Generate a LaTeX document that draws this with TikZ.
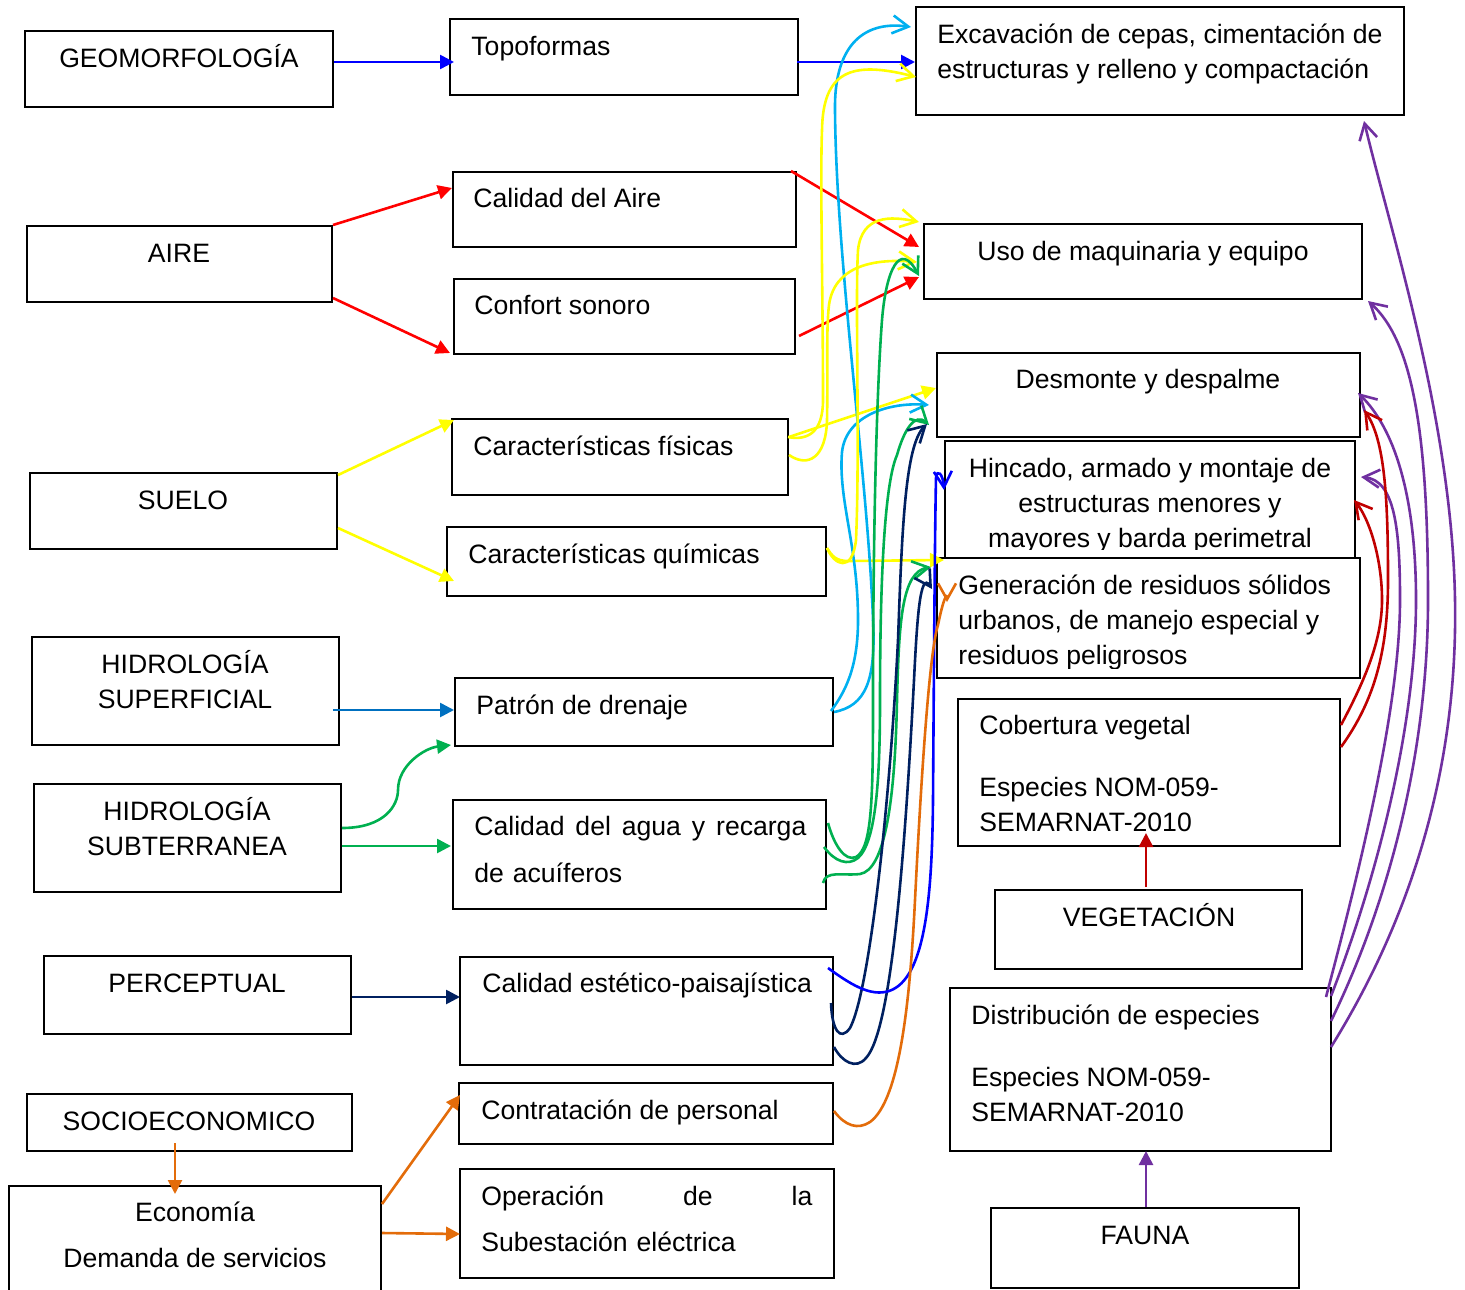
\documentclass[tikz,border=0pt]{standalone}
\usepackage{fontspec}
\setmainfont{Liberation Sans}
\usepackage{tikz}
\usetikzlibrary{arrows.meta, fit}
\definecolor{dgAzul}{HTML}{0000FF}
\definecolor{dgRojo}{HTML}{FF0000}
\definecolor{dgAmarillo}{HTML}{FFFF00}
\definecolor{dgAzulSup}{HTML}{0070C0}
\definecolor{dgCian}{HTML}{00B0F0}
\definecolor{dgVerde}{HTML}{00B050}
\definecolor{dgMarino}{HTML}{002060}
\definecolor{dgNaranja}{HTML}{E36C0A}
\definecolor{dgGuinda}{HTML}{C00000}
\definecolor{dgMorado}{HTML}{7030A0}

\begin{document}
\begin{tikzpicture}[
  x=0.5pt, y=-0.5pt,
  %% --- Node styles ---
  caja/.style={rectangle, draw=black, line width=1pt, fill=white, inner sep=0pt},
  rotulo/.style={inner sep=0pt, font=\fontsize{13.3pt}{17.5pt}\selectfont},
  rotuloC/.style={rotulo, align=center, anchor=north},
  rotuloL/.style={rotulo, align=left, anchor=north west},
  %% --- Arrow styles ---
  flecha/.style={-{Triangle[length=7pt,width=7pt]}, line width=1.3pt},
  curva/.style={-{Straight Barb[length=8pt,width=9pt]}, line width=1.3pt}
]
\useasboundingbox (0,0) rectangle (1465,1289);

%% =========================================================
%% BOXES — left column (factores)
%% =========================================================
\node[caja, fit={(25,31) (333,107)}]    (geo)    {};
\node[caja, fit={(27,226) (332,302)}]   (aire)   {};
\node[caja, fit={(30,473) (337,549)}]   (suelo)  {};
\node[caja, fit={(32,637) (339,745)}]   (hsup)   {};
\node[caja, fit={(34,784) (341,892)}]   (hsub)   {};
\node[caja, fit={(44,956) (351,1034)}]  (perc)   {};
\node[caja, fit={(27,1094) (352,1151)}] (socio)  {};
\node[caja, fit={(9,1186) (381,1300)}]  (eco)    {};

%% =========================================================
%% BOXES — middle column (componentes)
%% =========================================================
\node[caja, fit={(450,19) (798,95)}]    (topo)    {};
\node[caja, fit={(453,172) (796,247)}]  (caire)   {};
\node[caja, fit={(454,279) (795,354)}]  (confort) {};
\node[caja, fit={(452,419) (788,495)}]  (cfis)    {};
\node[caja, fit={(447,527) (826,596)}]  (cquim)   {};
\node[caja, fit={(455,678) (833,746)}]  (dren)    {};
\node[caja, fit={(453,800) (826,909)}]  (cagua)   {};
\node[caja, fit={(460,957) (833,1065)}] (cest)    {};
\node[caja, fit={(459,1083) (833,1144)}] (contr)  {};
\node[caja, fit={(460,1169) (834,1278)}] (oper)   {};

%% =========================================================
%% BOXES — right column (actividades)
%% =========================================================
\node[caja, fit={(916,7) (1404,115)}]    (exc)   {};
\node[caja, fit={(924,224) (1362,299)}]  (uso)   {};
\node[caja, fit={(937,353) (1360,437)}]  (desm)  {};
\node[caja, fit={(945,441) (1355,558)}]  (hinc)  {};
\node[caja, fit={(937,558) (1360,678)}]  (gen)   {};
\node[caja, fit={(958,699) (1340,846)}]  (cob)   {};
\node[caja, fit={(995,890) (1302,969)}]  (veg)   {};
\node[caja, fit={(950,988) (1331,1151)}] (distr) {};
\node[caja, fit={(991,1208) (1299,1288)}] (fauna) {};

%% =========================================================
%% TEXTS
%% =========================================================
\node[rotuloC] (geoTxt)   at (179,43)   {\strut GEOMORFOLOGÍA};
\node[rotuloC] (aireTxt)  at (179,238)  {\strut AIRE};
\node[rotuloC] (sueloTxt) at (183,485)  {\strut SUELO};
\node[rotuloC] (hsupTxt)  at (185,649)  {\strut HIDROLOGÍA\\SUPERFICIAL};
\node[rotuloC] (hsubTxt)  at (187,796)  {\strut HIDROLOGÍA\\SUBTERRANEA};
\node[rotuloC] (percTxt)  at (197,968)  {\strut PERCEPTUAL};
\node[rotuloC] (socioTxt) at (189,1106) {\strut SOCIOECONOMICO};
\node[rotuloC] (ecoTxt)   at (195,1197) {\strut Economía\\[5.5pt]Demanda de servicios};

\node[rotuloL] (topoTxt)    at (471,31)  {\strut Topoformas};
\node[rotuloL] (caireTxt)   at (473,183) {\strut Calidad del Aire};
\node[rotuloL] (confortTxt) at (474,290) {\strut Confort sonoro};
\node[rotuloL] (cfisTxt)    at (473,431) {\strut Características físicas};
\node[rotuloL] (cquimTxt)   at (468,539) {\strut Características químicas};
\node[rotuloL] (drenTxt)    at (476,690) {\strut Patrón de drenaje};
\node[rotuloL, text width=166pt] (caguaTxt) at (474,811)
      {\strut Calidad \hfill del \hfill agua \hfill y \hfill recarga\\[6pt]de acuíferos};
\node[rotuloL] (cestTxt)    at (482,968)  {\strut Calidad estético-paisajística};
\node[rotuloL] (contrTxt)   at (481,1095) {\strut Contratación de personal};
\node[rotuloL, text width=165.5pt] (operTxt) at (481,1181)
      {\strut Operación \hfill de \hfill la\\[5.5pt]Subestación eléctrica};

\node[rotuloL] (excTxt) at (937,19)
      {\strut Excavación de cepas, cimentación de\\estructuras y relleno y compactación};
\node[rotuloC] (usoTxt)  at (1143,236) {\strut Uso de maquinaria y equipo};
\node[rotuloC] (desmTxt) at (1148,364) {\strut Desmonte y despalme};
\begin{scope}
  \clip (hinc.north west) rectangle ([shift={(0,-10)}]hinc.south east);
  \node[rotuloC] (hincTxt) at (1150,453)
        {\strut Hincado, armado y montaje de\\estructuras menores y\\mayores y barda perimetral};
\end{scope}
\begin{scope}
  \clip (gen.north west) rectangle ([shift={(0,-11)}]gen.south east);
  \node[rotuloL] (genTxt) at (958,570)
        {\strut Generación de residuos sólidos\\urbanos, de manejo especial y\\residuos peligrosos};
\end{scope}
\node[rotuloL] (cobTxt)   at (979,710)  {\strut Cobertura vegetal\\[13.5pt]Especies NOM-059-\\SEMARNAT-2010};
\node[rotuloC] (vegTxt)   at (1149,902) {\strut VEGETACIÓN};
\node[rotuloL] (distrTxt) at (971,1000) {\strut Distribución de especies\\[13.5pt]Especies NOM-059-\\SEMARNAT-2010};
\node[rotuloC] (faunaTxt) at (1145,1220) {\strut FAUNA};

%% =========================================================
%% STRAIGHT ARROWS (factor -> componente)
%% =========================================================
\draw[flecha, dgAzul] ([shift={(0,-7)}]geo.east) -- ([shift={(5,5)}]topo.west);
\draw[flecha, dgAzul] ([shift={(-2,5)}]topo.east) -- ([shift={(0,1)}]exc.west);
\draw[flecha, dgRojo] (aire.north east) -- ([shift={(0,-21.5)}]caire.west);
\draw[flecha, dgRojo] ([shift={(0,-5)}]aire.south east) -- ([shift={(-3,-2)}]confort.south west);
\draw[flecha, dgRojo] ([shift={(-6,0)}]caire.north east) -- ([shift={(-4,-14.5)}]uso.west);
\draw[flecha, dgRojo] ([shift={(3,19.5)}]confort.east) -- ([shift={(-4,15.5)}]uso.west);
\draw[flecha, dgAmarillo] ([shift={(0,3)}]suelo.north east) -- ([shift={(3,2)}]cfis.north west);
\draw[flecha, dgAmarillo] ([shift={(0,17)}]suelo.east) -- ([shift={(8,-16)}]cquim.south west);
\draw[flecha, dgAmarillo] ([shift={(0,-20)}]cfis.east) -- ([shift={(0,-7)}]desm.west);
\draw[flecha, dgAmarillo] ([shift={(0,-13.5)}]cquim.east)
    .. controls (832,556) and (836,561) .. (848,561) -- ([shift={(8,3)}]gen.north west);
\draw[flecha, dgAzulSup] ([shift={(-7,19)}]hsup.east) -- ([shift={(0,-2)}]dren.west);
\draw[flecha, dgVerde] ([shift={(0,-10)}]hsub.east)
    .. controls (385,828) and (398,805) .. (398,790)
    .. controls (398,765) and (425,748) .. ([shift={(-3,-2)}]dren.south west);
\draw[flecha, dgVerde] ([shift={(0,8)}]hsub.east) -- ([shift={(-1,-8.5)}]cagua.west);
\draw[flecha, dgMarino] ([shift={(0,2)}]perc.east) -- ([shift={(1,-14)}]cest.west);
\draw[flecha, dgNaranja] ([shift={(-14.5,-9)}]socio.south) -- ([shift={(-20,9)}]eco.north);
\draw[flecha, dgNaranja] ([shift={(0,19)}]eco.north east) -- ([shift={(2,-18.5)}]contr.west);
\draw[flecha, dgNaranja] ([shift={(0,48)}]eco.north east) -- ([shift={(1,10.5)}]oper.west);
\draw[flecha, dgGuinda] ([shift={(-2.5,-2)}]veg.north) -- ([shift={(-3,-14)}]cob.south);
\draw[flecha, dgMorado] ([shift={(1,0)}]fauna.north) -- ([shift={(5.5,-1)}]distr.south);

%% =========================================================
%% CURVED ARROWS (componente -> actividad)
%% =========================================================
%% drenaje
\draw[curva, dgCian] (dren.east)
    .. controls (866,706) and (876,680) .. (873,620)
    .. controls (868,480) and (836,260) .. (835,110)
    .. controls (834,50) and (860,20) .. ([shift={(-4,21)}]exc.north west);
\draw[curva, dgCian] ([shift={(-3,-1)}]dren.east)
    .. controls (845,692) and (858,668) .. (858,620)
    .. controls (858,545) and (838,500) .. (842,452)
    .. controls (846,415) and (890,402) .. ([shift={(-7,10)}]desm.west);

%% suelo
\draw[curva, dgAmarillo] ([shift={(-1,-20)}]cfis.east)
    .. controls (808,441) and (823,432) .. (823,400)
    .. controls (823,300) and (820,180) .. (822,130)
    .. controls (823,72) and (850,60) .. ([shift={(1,16)}]exc.west);
\draw[curva, dgAmarillo] ([shift={(0,-2)}]cfis.east)
    .. controls (808,468) and (826,458) .. (827,420)
    .. controls (828,370) and (826,330) .. (829,305)
    .. controls (834,268) and (870,258) .. ([shift={(-6,0.5)}]uso.west);
\draw[curva, dgAmarillo] ([shift={(0,-13.5)}]cquim.east)
    .. controls (834,565) and (852,574) .. (856,540)
    .. controls (860,450) and (855,300) .. (858,250)
    .. controls (862,215) and (890,216) .. ([shift={(-4,-1)}]uso.north west);

%% agua
\draw[curva, dgVerde] ([shift={(1,-31.5)}]cagua.east)
    .. controls (834,845) and (845,862) .. (856,857)
    .. controls (872,848) and (873,800) .. (873,700)
    .. controls (873,550) and (876,400) .. (882,320)
    .. controls (886,270) and (900,240) .. ([shift={(-4,14.5)}]uso.west);
\draw[curva, dgVerde] ([shift={(-3,-7.5)}]cagua.east)
    .. controls (835,862) and (848,866) .. (858,858)
    .. controls (876,842) and (880,780) .. (880,700)
    .. controls (880,560) and (886,480) .. (897,455)
    .. controls (904,430) and (915,412) .. ([shift={(-7,30)}]desm.west);
\draw[curva, dgVerde] ([shift={(-4,28.5)}]cagua.east)
    .. controls (826,870) and (842,876) .. (860,874)
    .. controls (885,870) and (895,800) .. (897,700)
    .. controls (899,620) and (902,572) .. ([shift={(-5,10)}]gen.north west);

%% paisaje
\draw[curva, dgMarino] ([shift={(-3,-8)}]cest.east)
    .. controls (832,1030) and (840,1042) .. (850,1028)
    .. controls (870,990) and (890,800) .. (898,640)
    .. controls (902,530) and (905,445) .. ([shift={(-9,29)}]desm.west);
\draw[curva, dgMarino] ([shift={(0,36)}]cest.east)
    .. controls (842,1062) and (856,1070) .. (866,1058)
    .. controls (892,1030) and (905,850) .. (914,680)
    .. controls (917,620) and (920,570) .. ([shift={(-4,32)}]gen.north west);
\draw[curva, dgAzul] ([shift={(-6,-43)}]cest.east)
    .. controls (850,984) and (868,995) .. (885,992)
    .. controls (925,985) and (932,900) .. (933,800)
    .. controls (934,650) and (935,520) .. (936,478)
    .. controls (937,468) and (943,474) .. ([shift={(0,-9.5)}]hinc.west);

%% personal
\draw[curva, dgNaranja] ([shift={(0,-2.5)}]contr.east)
    .. controls (845,1126) and (858,1130) .. (870,1122)
    .. controls (900,1100) and (910,1000) .. (915,900)
    .. controls (922,760) and (930,650) .. (938,625)
    .. controls (943,600) and (947,592) .. ([shift={(11,45)}]gen.north west);

%% fauna
\draw[curva, dgMorado] ([shift={(-1,60)}]distr.north east)
    .. controls (1410,920) and (1458,770) .. (1455,600)
    .. controls (1452,420) and (1390,230) .. ([shift={(-41,5)}]exc.south east);
\draw[curva, dgMorado] ([shift={(-1,34)}]distr.north east)
    .. controls (1390,900) and (1428,750) .. (1428,600)
    .. controls (1428,430) and (1412,340) .. ([shift={(5,1)}]uso.south east);
\draw[curva, dgMorado] ([shift={(-1,9)}]distr.north east)
    .. controls (1380,870) and (1416,720) .. (1416,600)
    .. controls (1416,500) and (1396,430) .. ([shift={(-3,-2)}]desm.east);
\draw[curva, dgMorado] ([shift={(-6,10)}]distr.north east)
    .. controls (1365,850) and (1400,700) .. (1400,600)
    .. controls (1400,530) and (1395,480) .. ([shift={(5,-22.5)}]hinc.east);

%% vegetacion
\draw[curva, dgGuinda] ([shift={(0,-25.5)}]cob.east)
    .. controls (1375,700) and (1388,650) .. (1388,580)
    .. controls (1388,500) and (1385,440) .. ([shift={(3,15)}]desm.east);
\draw[curva, dgGuinda] ([shift={(0,-47.5)}]cob.east)
    .. controls (1365,680) and (1382,640) .. (1382,600)
    .. controls (1382,560) and (1370,520) .. ([shift={(-2,0.5)}]hinc.east);

\end{tikzpicture}
\end{document}
